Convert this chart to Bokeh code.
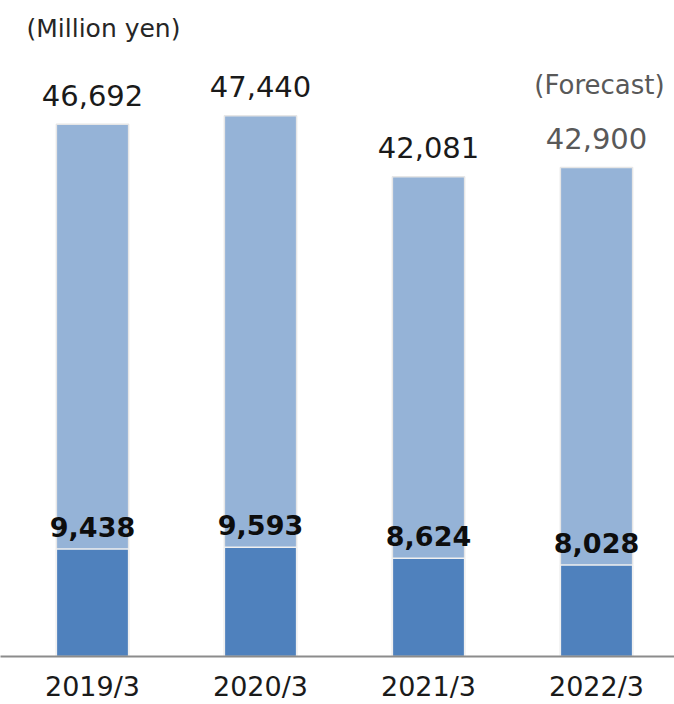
from bokeh.plotting import figure
from bokeh.models import ColumnDataSource, FixedTicker, Label
from bokeh.embed import file_html
from bokeh.resources import INLINE
from bokeh.core.properties import value

categories = ["2019/3", "2020/3", "2021/3", "2022/3"]
totals = [46692, 47440, 42081, 42900]
subs = [9438, 9593, 8624, 8028]
total_labels = ["46,692", "47,440", "42,081", "42,900"]
sub_labels = ["9,438", "9,593", "8,624", "8,028"]
total_colors = ["#1a1a1a", "#1a1a1a", "#1a1a1a", "#595959"]

FONT = "DejaVu Sans"
W, H = 674, 704
X0 = -92 / 168
Y_END = 656 / 0.0114

xs = list(range(len(categories)))
src = ColumnDataSource(dict(x=xs, total=totals, sub=subs, tl=total_labels,
                            sl=sub_labels, tc=total_colors))

p = figure(width=W, height=H, output_backend="svg", toolbar_location=None,
           x_range=(X0, X0 + W / 168), y_range=(0, Y_END),
           min_border_left=0, min_border_right=0, min_border_top=0,
           min_border_bottom=48, y_axis_location=None)
p.outline_line_color = None
p.xgrid.visible = False
p.ygrid.visible = False
p.background_fill_color = "white"
p.border_fill_color = "white"

p.vbar(x="x", top="total", bottom=0, width=0.43, source=src,
       fill_color="#95B3D7", line_color="#e6e6e6", line_width=1.5)
p.vbar(x="x", top="sub", bottom=0, width=0.43, source=src,
       fill_color="#4F81BD", line_color="#f0f0f0", line_width=1.5)

p.text(x="x", y="total", text="tl", source=src, text_color="tc",
       text_font=value(FONT), text_font_size="29px", text_align="center",
       text_baseline="middle", y_offset=-29)
p.text(x="x", y="sub", text="sl", source=src, text_color="#0d0d0d",
       text_font=value(FONT), text_font_size="27px", text_font_style="bold",
       text_align="center", text_baseline="middle", y_offset=-22)

p.add_layout(Label(x=xs[-1], y=totals[-1], text="(Forecast)", x_offset=3, y_offset=82,
                   text_font=FONT, text_font_size="26px", text_color="#595959",
                   text_align="center", text_baseline="middle"))
p.add_layout(Label(x=X0, y=Y_END, x_offset=26, y_offset=-28, text="(Million yen)",
                   text_font=FONT, text_font_size="25px", text_color="#262626",
                   text_align="left", text_baseline="middle"))

ax = p.xaxis[0]
ax.ticker = FixedTicker(ticks=xs)
ax.major_label_overrides = {i: c for i, c in zip(xs, categories)}
ax.major_tick_line_color = None
ax.minor_tick_line_color = None
ax.major_tick_out = 0
ax.major_tick_in = 0
ax.axis_line_color = "#8c8c8c"
ax.axis_line_width = 2
ax.major_label_standoff = 14
ax.major_label_text_font = FONT
ax.major_label_text_font_size = "27px"
ax.major_label_text_color = "#1a1a1a"

open("out.html", "w").write(file_html(p, INLINE))
